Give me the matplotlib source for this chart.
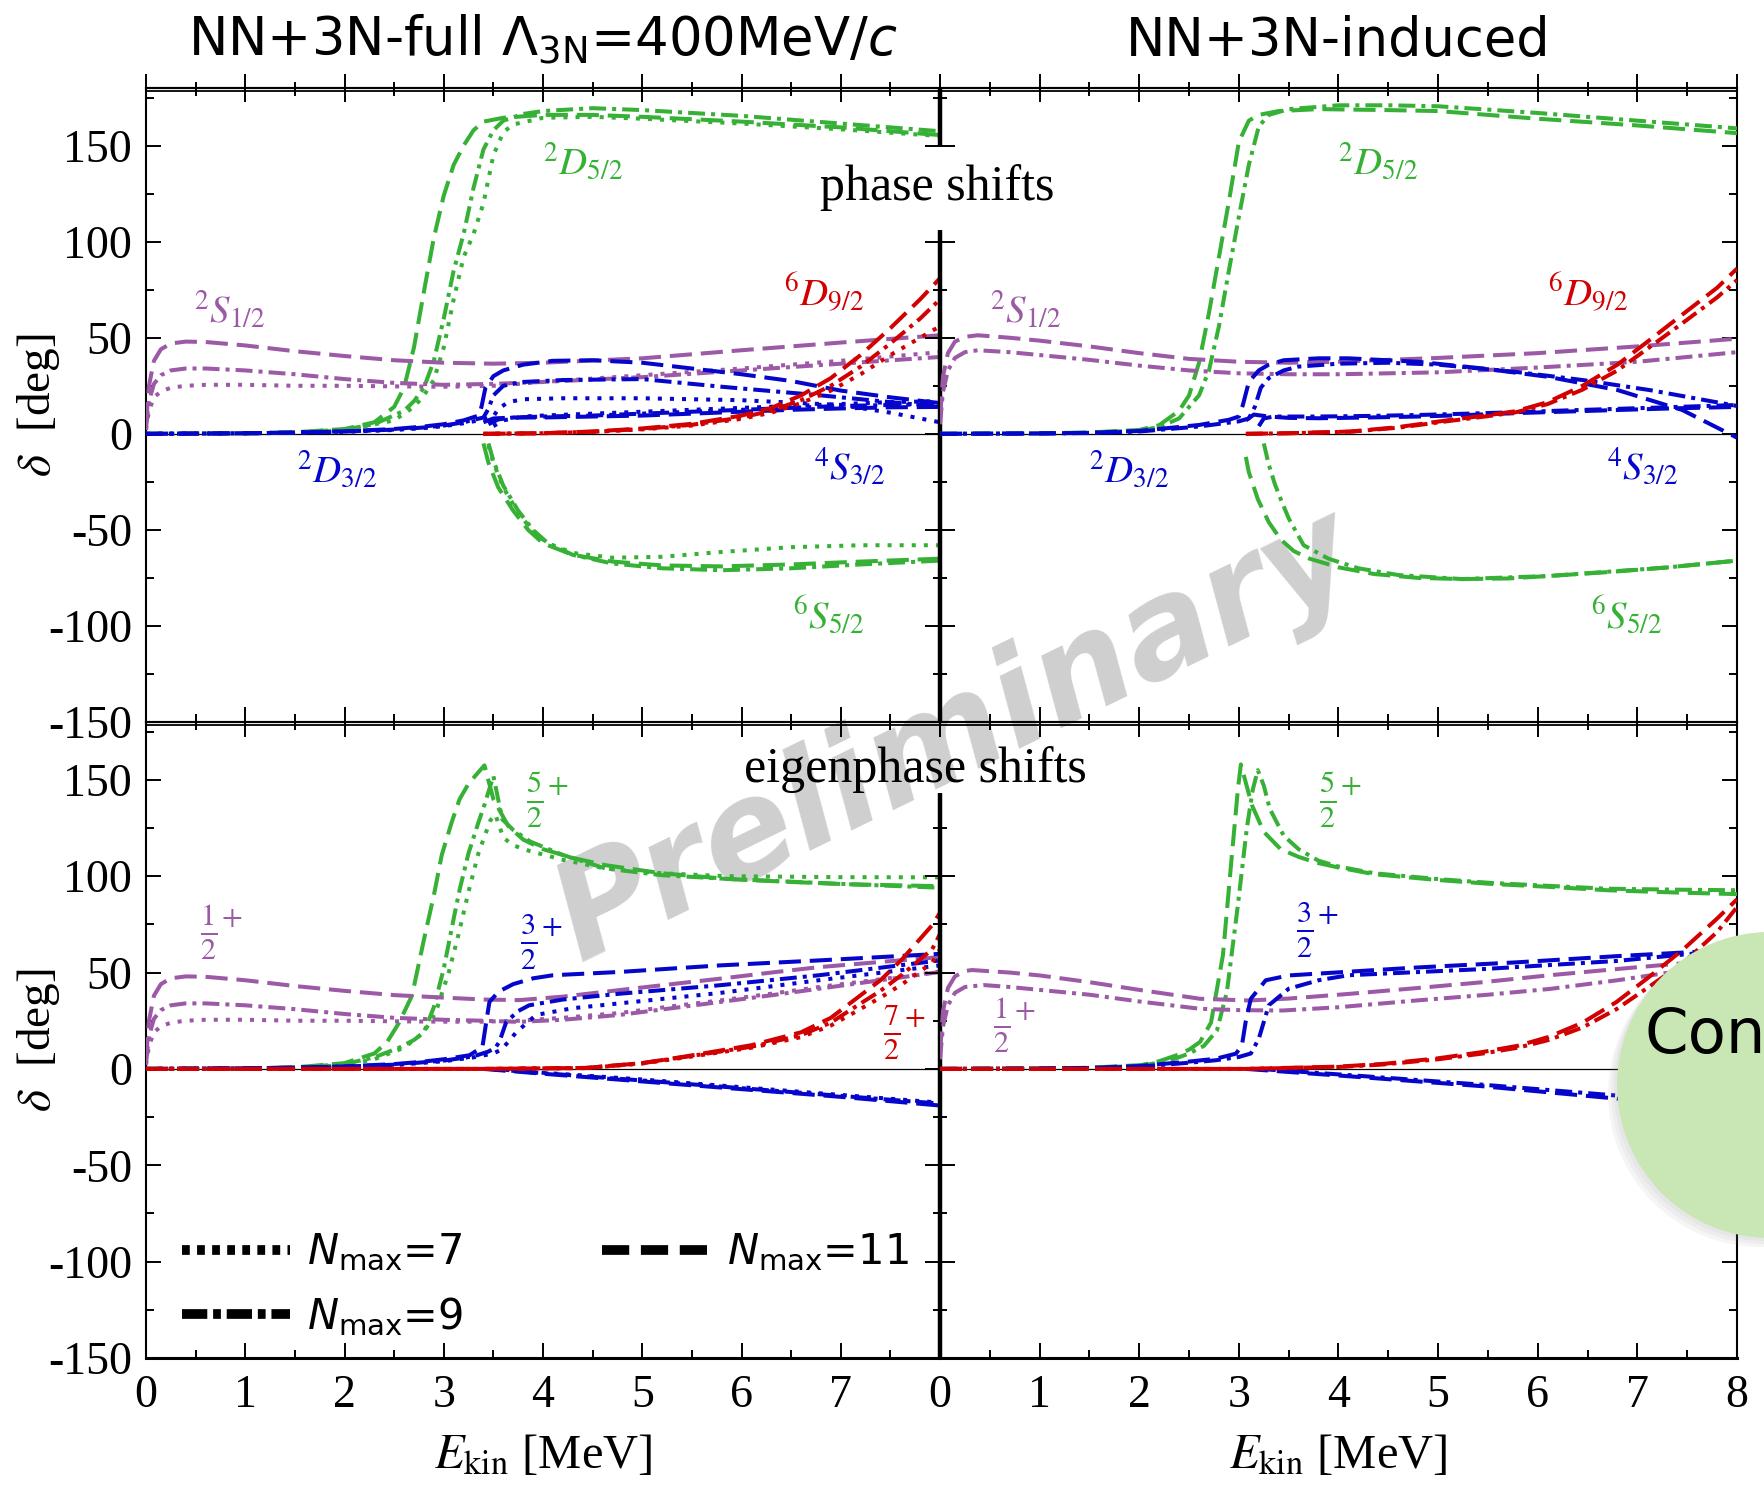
import matplotlib
matplotlib.use("Agg")
import matplotlib.pyplot as plt
from matplotlib.ticker import MultipleLocator
from matplotlib.lines import Line2D
from matplotlib.patches import Ellipse

plt.rcParams['font.family'] = ['Liberation Serif', 'DejaVu Serif']
plt.rcParams['mathtext.fontset'] = 'stix'
plt.rcParams['axes.unicode_minus'] = False

# ---------------------------------------------------------------------------
# data: E_kin [MeV] and delta [deg]
# tl = phase shifts NN+3N-full, tr = phase shifts NN+3N-induced
# bl = eigenphase shifts NN+3N-full, br = eigenphase shifts NN+3N-induced
# n7 / n9 / n11 = Nmax
# ---------------------------------------------------------------------------
# ---- top left ----
tl_d52_n11_e = [0, 1.0, 1.5, 2.0, 2.3, 2.5, 2.6, 2.7, 2.8, 2.9, 3.0, 3.1, 3.2, 3.3, 3.4, 3.6, 4.0, 4.5, 5.0, 6.0, 7.0, 8.0]
tl_d52_n11_d = [0, 0.2, 0.8, 2.5, 6, 14, 24, 45, 74, 102, 124, 140, 150, 158, 162.5, 164.5, 166, 166, 165, 162.5, 159.5, 155.5]
tl_d52_n9_e = [0, 1.0, 1.5, 2.0, 2.3, 2.6, 2.7, 2.8, 2.9, 3.0, 3.1, 3.2, 3.3, 3.4, 3.5, 3.6, 3.8, 4.0, 4.5, 5.0, 6.0, 7.0, 8.0]
tl_d52_n9_d = [0, 0.2, 0.7, 2.2, 5, 12, 17, 24, 38, 60, 85, 104, 128, 148, 158, 163, 166.5, 168, 169.5, 168.5, 165.5, 161.5, 157.5]
tl_d52_n7_e = [0, 1.0, 1.5, 2.0, 2.5, 2.7, 2.8, 2.9, 3.0, 3.1, 3.2, 3.3, 3.4, 3.5, 3.6, 3.7, 4.0, 4.5, 5.0, 6.0, 7.0, 8.0]
tl_d52_n7_d = [0, 0.2, 0.6, 1.8, 7, 14, 20, 28, 45, 70, 92, 104, 120, 145, 157, 161, 164.5, 165, 164, 161.5, 158.5, 155]

tl_s52_n11_e = [3.4, 3.45, 3.55, 3.7, 3.85, 4.0, 4.3, 4.7, 5.2, 5.8, 6.5, 7.2, 8.0]
tl_s52_n11_d = [-5, -15, -28, -40, -50, -57, -63, -66.5, -68.5, -69, -68, -66.5, -65]
tl_s52_n9_e = [3.45, 3.5, 3.6, 3.75, 3.9, 4.05, 4.3, 4.7, 5.2, 5.8, 6.5, 7.2, 8.0]
tl_s52_n9_d = [-5, -14, -27, -40, -50, -57, -63, -67.5, -70, -71, -70, -68, -66]
tl_s52_n7_e = [3.45, 3.5, 3.6, 3.75, 3.9, 4.05, 4.3, 4.7, 5.2, 5.8, 6.5, 7.2, 8.0]
tl_s52_n7_d = [-6, -15, -28, -41, -51, -57, -62, -64.5, -64, -61.5, -59, -58, -58]

tl_s12_e = [0, 0.03, 0.08, 0.15, 0.25, 0.4, 0.6, 1.0, 1.5, 2.0, 2.5, 3.0, 3.5, 4.0, 5.0, 6.0, 7.0, 8.0]
tl_s12_n11_d = [5, 25, 38, 44, 47, 48, 47.8, 46, 43, 40.5, 38.3, 37, 36.5, 37, 39.3, 43.5, 47.5, 51.3]
tl_s12_n9_d = [3, 17, 26, 30.5, 33, 34, 34, 33, 31, 28.5, 26.5, 25.5, 26, 27, 29.5, 33, 36.5, 40]
tl_s12_n7_d = [2, 12, 19, 22, 24, 25, 25.5, 25.5, 25, 25, 24.7, 24.5, 25, 27, 30.5, 34, 38, 42.5]

tl_d32_n11_e = [0, 1.0, 1.5, 2.0, 2.5, 2.8, 3.0, 3.2, 3.35, 3.38, 3.42, 3.5, 3.6, 3.8, 4.1, 4.5, 5.0, 5.5, 6.0, 6.5, 7.0, 7.5, 8.0]
tl_d32_n11_d = [0, 0.3, 0.7, 1.3, 2.5, 3.8, 5, 7, 9.5, 14, 24, 30, 33, 36, 38, 38.3, 37, 34, 31, 27.5, 22.5, 19, 16]
tl_d32_n9_e = [0, 1.0, 1.5, 2.0, 2.5, 2.8, 3.0, 3.2, 3.4, 3.45, 3.5, 3.6, 3.8, 4.2, 5.0, 5.8, 6.8, 8.0]
tl_d32_n9_d = [0, 0.3, 0.6, 1.2, 2.2, 3.3, 4.3, 6, 8.5, 13, 20, 25, 27, 28, 28.5, 24.5, 20, 14]
tl_d32_n7_e = [0, 1.0, 1.5, 2.0, 2.5, 2.8, 3.0, 3.2, 3.4, 3.5, 3.55, 3.65, 3.8, 4.2, 5.0, 6.0, 7.0, 7.5, 8.0]
tl_d32_n7_d = [0, 0.3, 0.5, 1.0, 2.0, 3.0, 4, 5.5, 7.5, 9, 13, 16.5, 18, 18.5, 18.5, 17.5, 15, 11, 6]

tl_s32_n11_e = [3.4, 3.5, 3.7, 4.0, 4.5, 5.0, 5.5, 6.0, 6.5, 7.0, 7.5, 8.0]
tl_s32_n11_d = [6, 8, 8.5, 8.5, 9, 9.5, 10.5, 11.5, 12.5, 13.2, 13.8, 14]
tl_s32_n9_e = [3.45, 3.55, 3.7, 4.0, 4.5, 5.0, 5.5, 6.0, 6.5, 7.0, 7.5, 8.0]
tl_s32_n9_d = [5, 7.5, 8.5, 9, 9.5, 10.5, 11.5, 12.5, 13.5, 14.5, 15, 15.5]
tl_s32_n7_e = [3.5, 3.6, 3.8, 4.0, 4.5, 5.0, 5.5, 6.0, 6.5, 7.0, 7.5, 8.0]
tl_s32_n7_d = [4, 7, 9, 9.5, 10.5, 11.5, 12.5, 13.5, 14.5, 15.5, 16.5, 17]

tl_d92_e = [3.4, 4.0, 4.5, 5.0, 5.5, 6.0, 6.3, 6.6, 6.9, 7.2, 7.5, 7.8, 8.0]
tl_d92_n11_d = [0, 0.3, 1.2, 2.8, 5.2, 9.5, 13.5, 20, 29, 41, 55, 70, 81]
tl_d92_n9_d = [0, 0.3, 1.1, 2.5, 4.7, 8.5, 12, 17.5, 25, 35, 47, 60, 70]
tl_d92_n7_d = [0, 0.3, 1.0, 2.3, 4.3, 7.8, 11, 16, 22.5, 31, 41, 50, 56]

# ---- top right ----
tr_d52_n11_e = [0, 1.0, 1.5, 2.0, 2.2, 2.4, 2.5, 2.6, 2.7, 2.8, 2.9, 3.0, 3.1, 3.2, 3.4, 3.8, 4.5, 5.0, 6.0, 7.0, 8.0]
tr_d52_n11_d = [0, 0.2, 0.7, 2, 4.5, 12, 20, 37, 63, 92, 121, 152, 163, 166, 168, 169, 168.5, 168, 164, 160.5, 156.5]
tr_d52_n9_e = [0, 1.0, 1.5, 2.0, 2.2, 2.4, 2.6, 2.7, 2.8, 2.9, 3.0, 3.1, 3.2, 3.3, 3.5, 4.0, 4.5, 5.0, 6.0, 7.0, 8.0]
tr_d52_n9_d = [0, 0.2, 0.6, 1.7, 3.5, 8, 20, 33, 56, 85, 113, 140, 160, 166, 169, 171, 171, 170.5, 167, 163, 159]

tr_s52_n11_e = [3.07, 3.1, 3.19, 3.3, 3.42, 3.55, 3.71, 4.0, 4.36, 4.8, 5.24, 5.7, 6.11, 6.7, 7.29, 8.0]
tr_s52_n11_d = [-12, -20, -34, -46, -55, -61, -65, -69.5, -73, -75, -75.6, -75.3, -74, -72, -69.6, -66]
tr_s52_n9_e = [3.25, 3.3, 3.36, 3.42, 3.5, 3.65, 3.9, 4.2, 4.6, 5.24, 6.11, 7.29, 8.0]
tr_s52_n9_d = [-5, -16, -26, -34, -44, -58, -65, -70, -73.5, -75.6, -74, -69.6, -66]

tr_s12_e = [0, 0.03, 0.08, 0.15, 0.25, 0.38, 0.7, 1.0, 1.5, 2.0, 2.5, 3.0, 3.5, 4.0, 5.0, 6.0, 7.0, 8.0]
tr_s12_n11_d = [8, 30, 42, 48, 50.5, 51.3, 50, 48.5, 45.5, 42, 39, 37.5, 37, 37.5, 39.5, 42, 45.5, 49.5]
tr_s12_n9_d = [5, 22, 33, 39.5, 42.5, 43.5, 42.5, 41, 38.5, 35.5, 33, 31.5, 31, 31, 32, 34.5, 37.5, 42.5]

tr_d32_n11_e = [0, 1.0, 1.5, 2.0, 2.6, 2.9, 3.0, 3.04, 3.1, 3.2, 3.3, 3.45, 3.8, 4.1, 4.8, 5.45, 6.1, 6.8, 7.45, 8.0]
tr_d32_n11_d = [0, 0.2, 0.5, 1.5, 4.6, 7.3, 9, 15, 27, 33, 36, 38.3, 39.3, 39.3, 37.5, 34, 29.7, 22.8, 12.4, -2]
tr_d32_n9_e = [0, 1.0, 1.5, 2.0, 2.6, 3.0, 3.1, 3.16, 3.22, 3.3, 3.45, 3.6, 4.0, 4.5, 5.0, 5.77, 6.45, 7.12, 8.0]
tr_d32_n9_d = [0, 0.2, 0.4, 1.2, 3.8, 6.5, 8, 14, 24, 29, 33, 35, 36.5, 37, 36, 32.3, 28, 22.8, 14.5]

tr_s32_n11_e = [3.07, 3.15, 3.3, 3.5, 3.8, 4.3, 4.8, 5.3, 5.8, 6.3, 6.8, 7.4, 8.0]
tr_s32_n11_d = [7, 10, 9, 8.3, 8.1, 8.5, 9, 9.8, 10.8, 11.6, 12.4, 13.3, 14]
tr_s32_n9_e = [3.2, 3.25, 3.35, 3.5, 3.8, 4.3, 4.8, 5.3, 5.8, 6.3, 6.8, 7.4, 8.0]
tr_s32_n9_d = [4, 8, 9, 9, 9, 9.3, 9.8, 10.5, 11.3, 12.2, 13, 14, 15]

tr_d92_e = [3.07, 3.5, 4.12, 4.6, 5.13, 5.5, 5.78, 6.1, 6.45, 6.8, 7.12, 7.45, 7.8, 8.0]
tr_d92_n11_d = [0, 0.3, 1.2, 3.5, 7.3, 9.7, 11.8, 16.5, 25, 36, 48.7, 62, 76, 86]
tr_d92_n9_d = [0, 0.3, 1.1, 3.2, 6.8, 9.2, 11.2, 15.5, 23, 33, 45, 57.5, 71, 80]

# ---- bottom left ----
bl_j52_n11_e = [0, 1.0, 1.5, 2.0, 2.3, 2.43, 2.55, 2.68, 2.8, 2.9, 2.98, 3.08, 3.16, 3.25, 3.35, 3.41, 3.5, 3.65, 3.8, 4.0, 4.3, 4.63, 5.2, 5.85, 6.5, 7.07, 8.0]
bl_j52_n11_d = [0, 0.2, 0.8, 3, 8, 14, 24, 38, 67, 90, 111, 128, 140, 148, 154, 157.5, 140, 126, 119, 114, 109.5, 105.7, 101.5, 98.6, 97, 95.8, 94.8]
bl_j52_n9_e = [0, 1.0, 1.5, 2.0, 2.3, 2.55, 2.7, 2.8, 2.9, 3.0, 3.1, 3.16, 3.25, 3.35, 3.41, 3.5, 3.59, 3.7, 3.87, 4.2, 4.63, 5.2, 5.85, 7.0, 8.0]
bl_j52_n9_d = [0, 0.2, 0.7, 2.5, 6, 11, 15, 19, 32, 52, 78, 93, 112, 128, 137, 152, 129.5, 124, 118, 111, 104, 100.5, 98.6, 96, 94]
bl_j52_n7_e = [0, 1.0, 1.5, 2.0, 2.3, 2.6, 2.8, 2.92, 3.05, 3.15, 3.25, 3.35, 3.47, 3.52, 3.6, 3.7, 3.87, 4.2, 4.63, 5.2, 5.85, 7.0, 8.0]
bl_j52_n7_d = [0, 0.2, 0.6, 2.0, 5, 11, 19, 29.5, 50, 70, 92, 112, 129, 132, 120, 116, 113, 108.5, 104, 101.5, 100, 99.5, 99.4]

bl_j12_e = [0, 0.03, 0.08, 0.15, 0.25, 0.4, 0.6, 1.0, 1.5, 2.0, 2.5, 3.0, 3.4, 3.76, 4.2, 4.77, 5.3, 5.78, 6.3, 6.78, 7.4, 8.0]
bl_j12_n11_d = [5, 25, 38, 44, 47, 48, 47.8, 46, 43, 40.5, 38.3, 37, 36, 35.7, 37.5, 40.9, 44, 46.8, 50, 52.8, 55.5, 58]
bl_j12_n9_d = [3, 17, 26, 30.5, 33, 34, 34, 33, 31, 28.5, 26.5, 25.5, 25, 24.4, 25.5, 28, 31.5, 34.7, 38.2, 41.6, 46, 50.3]
bl_j12_n7_d = [2, 12, 19, 22, 24, 25, 25.5, 25.5, 25, 25, 24.7, 24.5, 24.5, 25, 26.5, 29, 32.5, 35.5, 39, 42.5, 46.5, 50.5]

bl_j32_n11_e = [0, 1.0, 1.5, 2.0, 2.5, 2.76, 3.0, 3.26, 3.39, 3.43, 3.46, 3.55, 3.7, 3.9, 4.1, 4.77, 5.78, 6.78, 8.0]
bl_j32_n11_d = [0, 0.3, 0.7, 1.3, 2.5, 3.6, 5, 7.1, 11.4, 25, 34.7, 40, 44, 47, 48.6, 50.3, 53.7, 56.3, 59.7]
bl_j32_n9_e = [0, 1.0, 1.5, 2.0, 2.5, 3.0, 3.3, 3.45, 3.52, 3.56, 3.63, 3.75, 3.86, 4.2, 4.77, 5.78, 6.78, 8.0]
bl_j32_n9_d = [0, 0.3, 0.6, 1.2, 2.2, 4.3, 6.5, 9, 11, 14, 24.4, 30, 33, 36, 39, 43.4, 48.6, 56.3]
bl_j32_n7_e = [0, 1.0, 1.5, 2.0, 2.5, 3.0, 3.3, 3.5, 3.58, 3.65, 3.73, 3.93, 4.3, 4.77, 5.78, 6.78, 8.0]
bl_j32_n7_d = [0, 0.3, 0.5, 1.0, 2.0, 4, 6, 8, 10, 14, 19, 28, 31.5, 34, 39.4, 46, 53.7]

bl_neg_n11_e = [3.4, 4.0, 5.0, 6.0, 7.0, 8.0]
bl_neg_n11_d = [0, -2.5, -6.5, -10.5, -14.5, -19]
bl_neg_n9_e = [3.45, 4.0, 5.0, 6.0, 7.0, 8.0]
bl_neg_n9_d = [0, -2.2, -6, -10, -14, -18]
bl_neg_n7_e = [3.5, 4.0, 5.0, 6.0, 7.0, 8.0]
bl_neg_n7_d = [0, -2.0, -5.5, -9.5, -13.5, -17.5]

bl_j72_e = [0, 3.4, 4.43, 5.0, 5.44, 6.1, 6.6, 6.9, 7.11, 7.4, 7.62, 7.92, 8.0]
bl_j72_n11_d = [0, 0, 0.5, 3, 6.5, 12.3, 19, 26.5, 34.7, 46, 57, 74.5, 81]
bl_j72_n9_d = [0, 0, 0.5, 3, 6.3, 11.5, 17.5, 24, 31, 40.5, 49, 62, 70]
bl_j72_n7_d = [0, 0, 0.4, 2.8, 6, 11, 16.5, 22.5, 28.5, 37, 44, 55, 62]

# ---- bottom right ----
br_j52_n11_e = [0, 1.0, 1.5, 2.02, 2.2, 2.37, 2.5, 2.61, 2.72, 2.84, 2.93, 2.99, 3.02, 3.13, 3.25, 3.42, 3.6, 3.78, 4.0, 4.36, 5.0, 5.53, 6.1, 6.7, 7.4, 8.0]
br_j52_n11_d = [0, 0.2, 0.6, 2, 4, 7, 10, 14, 24, 59, 111, 145, 158, 137, 123, 114, 110, 107, 104.5, 101, 98, 96, 94.5, 92.7, 91.5, 90.7]
br_j52_n9_e = [0, 1.0, 1.5, 2.02, 2.2, 2.37, 2.5, 2.65, 2.78, 2.88, 2.99, 3.08, 3.14, 3.19, 3.25, 3.31, 3.45, 3.6, 3.8, 4.0, 4.36, 5.0, 5.53, 6.1, 6.7, 7.4, 8.0]
br_j52_n9_d = [0, 0.2, 0.5, 1.7, 3.3, 5.5, 8, 12, 20, 40, 85, 125, 145, 155, 147, 135, 121, 114, 108, 105, 101.5, 98.5, 96.5, 95, 93.5, 93, 92.7]

br_j12_n11_e = [0, 0.03, 0.08, 0.15, 0.25, 0.32, 0.7, 1.0, 1.5, 2.0, 2.61, 3.1, 3.5, 4.1, 4.8, 5.45, 6.1, 6.79, 7.72, 8.0]
br_j12_n11_d = [8, 30, 42, 48, 50.8, 51.3, 50, 48.5, 45, 41, 36.4, 35.5, 36.5, 38.9, 42, 45, 48.5, 51.8, 56, 57]
br_j12_n9_e = [0, 0.03, 0.08, 0.15, 0.25, 0.44, 0.7, 1.0, 1.5, 2.0, 2.61, 3.0, 3.44, 4.0, 4.78, 5.5, 6.12, 6.8, 7.45, 8.0]
br_j12_n9_d = [5, 22, 33, 39.5, 42.5, 43.5, 42.5, 41, 38.5, 35, 31.2, 30.5, 30.3, 32, 35.5, 38.5, 41.5, 46, 51, 54]

br_j32_n11_e = [0, 1.0, 1.5, 2.0, 2.5, 2.77, 2.97, 3.03, 3.07, 3.12, 3.27, 3.5, 3.78, 4.78, 5.79, 6.79, 8.0]
br_j32_n11_d = [0, 0.2, 0.5, 1.5, 3.8, 5.3, 7.9, 12, 25, 36.4, 46, 48.5, 49.4, 52.6, 55.3, 58.5, 61.9]
br_j32_n9_e = [0, 1.0, 1.5, 2.0, 2.5, 2.77, 3.0, 3.12, 3.2, 3.3, 3.5, 3.8, 4.1, 5.45, 6.79, 8.0]
br_j32_n9_d = [0, 0.2, 0.4, 1.2, 3.2, 4.5, 6.2, 8, 15.7, 33, 41.6, 46, 48.6, 51.8, 56, 62]

br_neg_n11_e = [3.07, 4.1, 5.45, 6.6, 8.0]
br_neg_n11_d = [0, -3.8, -9, -14.5, -21]
br_neg_n9_e = [3.2, 4.1, 5.45, 6.6, 8.0]
br_neg_n9_d = [0, -3.2, -8.2, -13, -19]

br_j72_e = [0, 3.07, 4.0, 4.45, 5.0, 5.45, 5.8, 6.11, 6.45, 6.79, 7.1, 7.46, 7.8, 8.0]
br_j72_n11_d = [0, 0, 1.2, 2.6, 5.5, 8.8, 12, 16.6, 24, 34.7, 47, 62, 78, 88]
br_j72_n9_d = [0, 0, 1.0, 2.3, 5, 8, 11, 15, 21.5, 31, 42, 55, 71, 84]

# channel labels: (text, E, delta)
tl_labels = [(r'$^{2}D_{5/2}$', 4.0, 141), (r'$^{2}S_{1/2}$', 0.48, 64), (r'$^{6}D_{9/2}$', 6.43, 73.6),
             (r'$^{2}D_{3/2}$', 1.52, -19.5), (r'$^{4}S_{3/2}$', 6.73, -17.8), (r'$^{6}S_{5/2}$', 6.52, -94.8)]
tr_labels = [(r'$^{2}D_{5/2}$', 4.0, 141), (r'$^{2}S_{1/2}$', 0.5, 64), (r'$^{6}D_{9/2}$', 6.1, 73.6),
             (r'$^{2}D_{3/2}$', 1.5, -19.5), (r'$^{4}S_{3/2}$', 6.7, -17.8), (r'$^{6}S_{5/2}$', 6.53, -95)]
bl_labels = [(r'$\frac{5}{2}^{+}$', 3.83, 139.5), (r'$\frac{1}{2}^{+}$', 0.54, 71),
             (r'$\frac{3}{2}^{+}$', 3.77, 66), (r'$\frac{7}{2}^{+}$', 7.43, 19)]
br_labels = [(r'$\frac{5}{2}^{+}$', 3.8, 140), (r'$\frac{3}{2}^{+}$', 3.57, 72),
             (r'$\frac{1}{2}^{+}$', 0.53, 22.5)]

xticks = [0, 1, 2, 3, 4, 5, 6, 7, 8]
yticks = [-150, -100, -50, 0, 50, 100, 150]
nmax_names = [r'$N_{\mathrm{max}}$=7', r'$N_{\mathrm{max}}$=9', r'$N_{\mathrm{max}}$=11']

# ---------------------------------------------------------------------------
green, purple, blue, red = '#36b136', '#9c5aa6', '#0505cc', '#d20000'
LW = 2.9
styles = {7: (0, (1.0, 2.0)), 9: (0, (4.2, 1.5, 1.0, 1.5)), 11: (0, (5.5, 2.2))}

W, H = 1764, 1486
fig = plt.figure(figsize=(W / 100, H / 100), dpi=100)


def box(x0, y0, x1, y1):
    return [x0 / W, 1 - y1 / H, (x1 - x0) / W, (y1 - y0) / H]


ax_tl = fig.add_axes(box(146, 88, 940, 722))
ax_tr = fig.add_axes(box(940, 88, 1737, 722))
ax_bl = fig.add_axes(box(146, 722, 940, 1358))
ax_br = fig.add_axes(box(940, 722, 1737, 1358))

series = {
    ax_tl: [(tl_d52_n11_e, tl_d52_n11_d, green, 11), (tl_d52_n9_e, tl_d52_n9_d, green, 9), (tl_d52_n7_e, tl_d52_n7_d, green, 7),
            (tl_s52_n11_e, tl_s52_n11_d, green, 11), (tl_s52_n9_e, tl_s52_n9_d, green, 9), (tl_s52_n7_e, tl_s52_n7_d, green, 7),
            (tl_s12_e, tl_s12_n11_d, purple, 11), (tl_s12_e, tl_s12_n9_d, purple, 9), (tl_s12_e, tl_s12_n7_d, purple, 7),
            (tl_d32_n11_e, tl_d32_n11_d, blue, 11), (tl_d32_n9_e, tl_d32_n9_d, blue, 9), (tl_d32_n7_e, tl_d32_n7_d, blue, 7),
            (tl_s32_n11_e, tl_s32_n11_d, blue, 11), (tl_s32_n9_e, tl_s32_n9_d, blue, 9), (tl_s32_n7_e, tl_s32_n7_d, blue, 7),
            (tl_d92_e, tl_d92_n11_d, red, 11), (tl_d92_e, tl_d92_n9_d, red, 9), (tl_d92_e, tl_d92_n7_d, red, 7)],
    ax_tr: [(tr_d52_n11_e, tr_d52_n11_d, green, 11), (tr_d52_n9_e, tr_d52_n9_d, green, 9),
            (tr_s52_n11_e, tr_s52_n11_d, green, 11), (tr_s52_n9_e, tr_s52_n9_d, green, 9),
            (tr_s12_e, tr_s12_n11_d, purple, 11), (tr_s12_e, tr_s12_n9_d, purple, 9),
            (tr_d32_n11_e, tr_d32_n11_d, blue, 11), (tr_d32_n9_e, tr_d32_n9_d, blue, 9),
            (tr_s32_n11_e, tr_s32_n11_d, blue, 11), (tr_s32_n9_e, tr_s32_n9_d, blue, 9),
            (tr_d92_e, tr_d92_n11_d, red, 11), (tr_d92_e, tr_d92_n9_d, red, 9)],
    ax_bl: [(bl_j52_n11_e, bl_j52_n11_d, green, 11), (bl_j52_n9_e, bl_j52_n9_d, green, 9), (bl_j52_n7_e, bl_j52_n7_d, green, 7),
            (bl_j12_e, bl_j12_n11_d, purple, 11), (bl_j12_e, bl_j12_n9_d, purple, 9), (bl_j12_e, bl_j12_n7_d, purple, 7),
            (bl_j32_n11_e, bl_j32_n11_d, blue, 11), (bl_j32_n9_e, bl_j32_n9_d, blue, 9), (bl_j32_n7_e, bl_j32_n7_d, blue, 7),
            (bl_neg_n11_e, bl_neg_n11_d, blue, 11), (bl_neg_n9_e, bl_neg_n9_d, blue, 9), (bl_neg_n7_e, bl_neg_n7_d, blue, 7),
            (bl_j72_e, bl_j72_n11_d, red, 11), (bl_j72_e, bl_j72_n9_d, red, 9), (bl_j72_e, bl_j72_n7_d, red, 7)],
    ax_br: [(br_j52_n11_e, br_j52_n11_d, green, 11), (br_j52_n9_e, br_j52_n9_d, green, 9),
            (br_j12_n11_e, br_j12_n11_d, purple, 11), (br_j12_n9_e, br_j12_n9_d, purple, 9),
            (br_j32_n11_e, br_j32_n11_d, blue, 11), (br_j32_n9_e, br_j32_n9_d, blue, 9),
            (br_neg_n11_e, br_neg_n11_d, blue, 11), (br_neg_n9_e, br_neg_n9_d, blue, 9),
            (br_j72_e, br_j72_n11_d, red, 11), (br_j72_e, br_j72_n9_d, red, 9)],
}
label_colors = {ax_tl: [green, purple, red, blue, blue, green], ax_tr: [green, purple, red, blue, blue, green],
                ax_bl: [green, purple, blue, red], ax_br: [green, blue, purple]}
labels = {ax_tl: tl_labels, ax_tr: tr_labels, ax_bl: bl_labels, ax_br: br_labels}

for ax in [ax_tl, ax_tr, ax_bl, ax_br]:
    ax.set_facecolor('none')
    ax.set_xlim(0, 8)
    ax.set_ylim(-150, 180)
    ax.axhline(0, color='k', lw=0.9, zorder=1)
    for e, d, col, n in series[ax]:
        ax.plot(e, d, color=col, lw=LW, linestyle=styles[n], zorder=3)
    for (txt, e, d), col in zip(labels[ax], label_colors[ax]):
        fs = 31 if 'frac' in txt else 28
        ax.text(e, d, txt, color=col, fontsize=fs, ha='left', va='center')
    ax.xaxis.set_major_locator(MultipleLocator(1))
    ax.xaxis.set_minor_locator(MultipleLocator(0.5))
    ax.yaxis.set_major_locator(MultipleLocator(50))
    ax.yaxis.set_minor_locator(MultipleLocator(25))
    ax.tick_params(which='both', direction='in', left=True, right=True, bottom=True,
                   top=True, width=1.4, labelsize=33, pad=10)
    ax.tick_params(which='major', length=11)
    ax.tick_params(which='minor', length=5.5)
    for sp in ax.spines.values():
        sp.set_linewidth(1.5)
    ax.axhline(178.3, color='k', lw=1.3, zorder=2)

for ax in [ax_tl, ax_bl]:
    ax.spines['right'].set_visible(False)
    ax.tick_params(which='both', right=False)
    ax.set_yticks(yticks)
    ax.set_yticklabels([str(v) for v in yticks])
for ax in [ax_tr, ax_br]:
    ax.spines['left'].set_visible(False)
    ax.tick_params(which='both', left=False, labelleft=False)

# middle frame line with its ticks, broken where the "phase shifts" /
# "eigenphase shifts" labels sit
mid_kw = dict(color='k', clip_on=False, solid_capstyle='butt', zorder=4)
for ax, segs, gap in [(ax_tl, [(149.5, 180), (-150, 106)], (106, 149.5)),
                      (ax_bl, [(-150, 143)], (143, 180))]:
    for lo, hi in segs:
        ax.plot([8, 8], [lo, hi], lw=3.2, **mid_kw)
    for d in range(-150, 180, 25):
        if gap[0] < d < gap[1]:
            continue
        half = 0.15 if d % 50 == 0 else 0.07
        ax.plot([8 - half, 8 + half], [d, d], lw=1.4, **mid_kw)

for ax in [ax_tl, ax_tr]:
    ax.tick_params(labelbottom=False, top=False)
    sec = ax.secondary_xaxis('top')
    sec.xaxis.set_major_locator(MultipleLocator(1))
    sec.xaxis.set_minor_locator(MultipleLocator(0.5))
    sec.tick_params(which='major', direction='inout', length=20, width=1.4, labeltop=False)
    sec.tick_params(which='minor', direction='inout', length=9, width=1.4)
    sec.spines['top'].set_linewidth(1.5)
for ax in [ax_bl, ax_br]:
    ax.spines['bottom'].set_linewidth(2.2)
    ax.tick_params(axis='x', pad=12)
ax_bl.set_xticks(xticks)
ax_bl.set_xticklabels([str(v) if v < 8 else '' for v in xticks])
ax_br.set_xticks(xticks)
ax_br.set_xticklabels([str(v) for v in xticks])

# legend
handles = [Line2D([], [], color='k', lw=7, linestyle=(0, (0.8, 0.75))),
           Line2D([], [], color='k', lw=7, linestyle=(0, (2.6, 0.6, 0.8, 0.6))),
           Line2D([], [], color='k', lw=7, linestyle=(0, (2.8, 1.2)))]
leg = ax_bl.legend(handles, nmax_names, ncol=2, loc='upper left', bbox_to_anchor=(0.019, 0.232),
                   frameon=False, handlelength=2.6, handletextpad=0.4, columnspacing=3.33,
                   labelspacing=0.54, borderpad=0, prop={'family': 'DejaVu Sans', 'size': 30})
for t in leg.get_texts():
    t.set_math_fontfamily('dejavusans')

# watermark behind the curves
fig.text(955 / W, 1 - 737 / H, 'Preliminary', rotation=26, rotation_mode='anchor',
         ha='center', va='center', fontsize=97, fontweight='bold', style='italic',
         family='DejaVu Sans', color='#cfcfcf', zorder=-1)

# overlay in pixel coordinates
ov = fig.add_axes([0, 0, 1, 1])
ov.set_xlim(0, W)
ov.set_ylim(H, 0)
ov.axis('off')
ov.patch.set_visible(False)
ov.set_zorder(5)

ov.text(543, 56, r'NN+3N-full $\Lambda_{\mathrm{3N}}$=400MeV/$c$', ha='center', va='baseline',
        fontsize=38, family='DejaVu Sans', math_fontfamily='dejavusans')
ov.text(1338, 56, 'NN+3N-induced', ha='center', va='baseline', fontsize=38, family='DejaVu Sans')
ov.text(937, 200, 'phase shifts', ha='center', va='baseline', fontsize=36)
ov.text(915, 782, 'eigenphase shifts', ha='center', va='baseline', fontsize=36)
for yc in [405, 1040]:
    ov.text(39, yc, r'$\delta$  [deg]', rotation=90, ha='center', va='center', fontsize=34)
for xc in [543, 1338]:
    ov.text(xc, 1468, r'$E_{\mathrm{kin}}$ [MeV]', ha='center', va='baseline', fontsize=35)

# "Con" bubble at lower right
for k, a in enumerate([0.07, 0.07, 0.08]):
    ov.add_patch(Ellipse((1770 - 3 * (k + 1), 1085 + 3 * (k + 1)), 306, 306,
                         facecolor='#888888', edgecolor='none', alpha=a))
ov.add_patch(Ellipse((1770, 1085), 306, 306, facecolor='#c9e6b5', edgecolor='none'))
ov.text(1644, 1053, 'Con', ha='left', va='baseline', fontsize=45, family='DejaVu Sans')

fig.savefig('out.png', dpi=100)
